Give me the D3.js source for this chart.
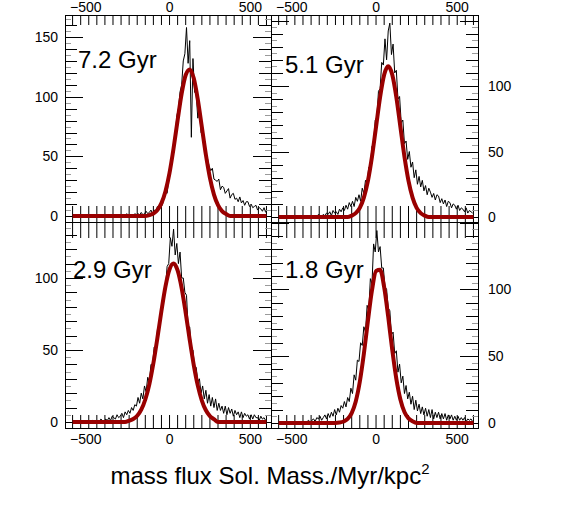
<!DOCTYPE html>
<html>
<head>
<meta charset="utf-8">
<script src="https://cdn.jsdelivr.net/npm/d3@7"></script>
<style>
  body { margin: 0; background: white; }
  svg { display: block; font-family: "Liberation Sans", Arial, sans-serif; }
</style>
</head>
<body>
<div id="chart"></div>
<script>
// panel titles (top-left, top-right, bottom-left, bottom-right)
var panelLabels = ['7.2 Gyr', '5.1 Gyr', '2.9 Gyr', '1.8 Gyr'];

// histogram counts, 10-wide bins from -600 to 600
var counts72 = [
  0,0,0,0,0,0,0,0,0,0,
  0,0,0,0,0,0,0,0,0,0,
  0,0,0,0,0,1,0,0,1,0,
  0,1,0,2,0,1,1,0,2,1,
  2,1,3,1,2,4,2,3,5,2,
  5,4,8,6,11,9,15,20,19,30,
  36,45,60,66,84,90,104,110,130,136,
  158,128,147,66,132,104,102,82,90,70,
  68,60,52,48,42,38,40,31,30,29,
  31,22,25,24,19,21,23,15,18,19,
  14,15,12,16,11,13,9,12,12,8,
  10,7,8,9,5,7,6,4,7,3
];
var counts51 = [
  0,0,0,0,0,0,0,0,0,0,
  0,0,0,0,1,0,0,1,0,0,
  0,1,1,0,2,1,0,2,1,3,
  2,4,1,5,3,4,2,6,4,7,
  5,9,6,11,8,12,8,15,12,17,
  12,22,18,28,26,38,38,54,56,74,
  76,96,98,118,116,136,120,142,148,124,
  132,110,112,90,92,72,74,56,58,44,
  50,38,42,30,36,25,31,23,28,20,
  24,17,22,19,15,18,13,17,16,11,
  14,10,13,8,12,11,7,10,9,6,
  9,5,7,6,4,7,3,5,4,3
];
var counts29 = [
  0,0,0,0,0,0,0,0,0,0,
  0,0,1,0,1,0,0,2,1,0,
  2,1,3,1,4,3,2,5,3,4,
  6,3,7,5,8,6,10,8,12,11,
  17,13,20,16,25,21,31,28,40,40,
  52,50,64,62,76,76,92,94,108,110,
  128,122,134,116,124,110,118,100,100,90,
  88,66,66,50,50,38,38,28,30,20,
  25,16,22,13,19,11,17,10,16,8,
  13,8,11,6,11,5,10,6,9,4,
  8,5,7,3,7,3,6,4,5,2,
  5,2,5,3,3,1,4,2,3,1
];
var counts18 = [
  0,0,0,0,0,0,0,0,0,0,
  0,0,0,1,0,1,0,1,2,0,
  2,3,1,4,3,5,2,4,6,3,
  7,4,8,5,10,6,11,8,13,11,
  16,12,19,16,26,22,36,32,47,46,
  60,58,72,68,88,84,108,104,134,128,
  144,128,132,116,116,102,100,86,84,66,
  68,52,54,38,44,30,35,22,28,18,
  23,14,20,10,17,9,14,7,12,6,
  11,5,10,4,10,3,8,4,8,3,
  7,3,7,2,6,3,6,2,5,2,
  5,2,4,2,4,1,3,2,3,1
];

var fit72 = [
  0,0,0,0,0,0,0,0,0,0,0,0,0,0,0,0,0,0,0,
  0.8,2.1,5.1,10.8,20.8,36.2,56.8,80.3,102.6,118.2,122.9,115.4,97.6,74.6,51.4,32.0,18.0,9.1,4.1,1.7,
  0,0,0,0,0,0,0,0,0,0
];
var fit51 = [
  0,0,0,0,0,0,0,0,0,0,0,0,0,0,0,0,0,0,
  1.1,3.0,7.0,14.8,27.6,46.1,68.8,91.5,108.6,115,108.6,91.5,68.8,46.1,27.6,14.8,7.0,3.0,1.1,
  0,0,0,0,0,0,0,0,0,0,0,0
];
var fit29 = [
  0,0,0,0,0,0,0,0,0,0,0,0,0,0,
  0.9,2.0,4.3,8.5,15.6,26.2,40.8,58.4,77.2,94.2,106,110,105.3,93,75.8,57,39.5,25.2,14.9,8.1,4.1,1.9,
  0,0,0,0,0,0,0,0,0,0,0,0,0
];
var fit18 = [
  0,0,0,0,0,0,0,0,0,0,0,0,0,0,0,
  0.3,1.1,3.0,7.4,16.1,30.8,51.7,76.4,99.3,113.7,114.6,101.6,79.4,54.5,33.0,17.6,8.2,3.4,1.2,
  0,0,0,0,0,0,0,0,0,0,0,0,0,0,0
];

var xTickLabels = [-500, 0, 500];
var yTickLabels = [[0, 50, 100, 150], [0, 50, 100], [0, 50, 100], [0, 50, 100]];
var yRanges = [[-5, 168.5], [-3.8, 154.2], [-4.2, 138.9], [-3.8, 150.4]];
var xRange = [-647, 628];

var axisLabel = 'mass flux Sol. Mass./Myr/kpc';

function mkPanelModel(i) {
  var col = i % 2, row = Math.floor(i / 2);
  var m = {
    col: col, row: row,
    left: col ? 271 : 65,
    right: col ? 478 : 271,
    top: row ? 222 : 15,
    bottom: row ? 428 : 222
  };
  m.x = d3.scaleLinear().domain(xRange).range([m.left, m.right]);
  m.y = d3.scaleLinear().domain(yRanges[i]).range([m.bottom, m.top]);
  return m;
}

function drawTicks(g, m) {
  var topLen = m.row ? 16 : 10;
  var botLen = m.row ? 13 : 16;
  var xt = d3.range(-600, 601, 50);

  g.selectAll('.xt-top').data(xt).join('line')
    .attr('class', 'xt-top')
    .attr('x1', d => m.x(d)).attr('x2', d => m.x(d))
    .attr('y1', m.top).attr('y2', m.top + topLen)
    .attr('stroke', 'black');

  g.selectAll('.xt-bot').data(xt).join('line')
    .attr('class', 'xt-bot')
    .attr('x1', d => m.x(d)).attr('x2', d => m.x(d))
    .attr('y1', m.bottom).attr('y2', m.bottom - botLen)
    .attr('stroke', 'black');

  var yt = d3.range(0, m.y.domain()[1], 5);
  var len = (d) => d % 50 === 0 ? 18 : (d % 10 === 0 ? 12 : 6);
  var col = (d) => d % 10 === 0 ? 'black' : '#9a9a9a';

  g.selectAll('.yt-left').data(yt).join('line')
    .attr('class', 'yt-left')
    .attr('x1', m.left).attr('x2', d => m.left + len(d))
    .attr('y1', d => Math.round(m.y(d)) + 0.5).attr('y2', d => Math.round(m.y(d)) + 0.5)
    .attr('stroke', col);

  g.selectAll('.yt-right').data(yt).join('line')
    .attr('class', 'yt-right')
    .attr('x1', m.right).attr('x2', d => m.right - len(d))
    .attr('y1', d => Math.round(m.y(d)) + 0.5).attr('y2', d => Math.round(m.y(d)) + 0.5)
    .attr('stroke', col);
}

function drawPanel(svg, i, counts, fit) {
  var m = mkPanelModel(i);
  var g = svg.append('g');

  g.append('clipPath').attr('id', 'clip' + i)
    .append('rect')
    .attr('x', m.left).attr('y', m.top)
    .attr('width', m.right - m.left).attr('height', m.bottom - m.top);

  drawTicks(g, m);

  var plot = g.append('g').attr('clip-path', 'url(#clip' + i + ')');

  // histogram through the bin centres
  var bins = counts.map((d, j) => ({ x: -595 + 10 * j, v: d }));
  plot.append('path')
    .datum(bins)
    .attr('d', d3.line().x(d => m.x(d.x)).y(d => m.y(d.v)))
    .attr('fill', 'none')
    .attr('stroke', 'black')
    .attr('stroke-width', 1);

  // fit curve
  var pts = fit.map((d, j) => ({ x: -600 + 25 * j, v: d }));
  plot.append('path')
    .datum(pts)
    .attr('d', d3.line().x(d => m.x(d.x)).y(d => m.y(d.v)).curve(d3.curveMonotoneX))
    .attr('fill', 'none')
    .attr('stroke', '#990000')
    .attr('stroke-width', 4)
    .attr('stroke-linejoin', 'round');

  g.append('rect')
    .attr('x', m.left + 0.5).attr('y', m.top + 0.5)
    .attr('width', m.right - m.left).attr('height', m.bottom - m.top)
    .attr('fill', 'none').attr('stroke', 'black');

  // x tick labels (top row on top, bottom row on bottom)
  g.selectAll('.xl').data(xTickLabels).join('text')
    .attr('class', 'xl')
    .attr('x', d => m.x(d) - (d < 0 ? 3 : 0))
    .attr('y', m.row ? 444 : 12)
    .attr('text-anchor', 'middle')
    .attr('font-size', 14)
    .text(d => d < 0 ? '\u2212' + Math.abs(d) : d);

  // y tick labels (left column on left, right column on right)
  g.selectAll('.yl').data(yTickLabels[i]).join('text')
    .attr('class', 'yl')
    .attr('x', m.col ? 488 : 58)
    .attr('y', d => m.y(d))
    .attr('dy', '0.36em')
    .attr('text-anchor', m.col ? 'start' : 'end')
    .attr('font-size', 14)
    .text(d => d);

  g.append('text')
    .attr('x', m.col ? 285 : (m.row ? 73 : 78))
    .attr('y', m.row ? 278 : (m.col ? 73 : 68))
    .attr('font-size', 24)
    .text(panelLabels[i]);
}

function main() {
  var svg = d3.select('#chart').append('svg')
    .attr('width', 572).attr('height', 511);

  svg.append('rect').attr('width', 572).attr('height', 511).attr('fill', 'white');

  drawPanel(svg, 0, counts72, fit72);
  drawPanel(svg, 1, counts51, fit51);
  drawPanel(svg, 2, counts29, fit29);
  drawPanel(svg, 3, counts18, fit18);

  var title = svg.append('text')
    .attr('x', 270).attr('y', 484)
    .attr('text-anchor', 'middle')
    .attr('font-size', 24);
  title.append('tspan').text(axisLabel);
  title.append('tspan').attr('dy', -10).attr('font-size', 15).text('2');
}

main();
</script>
</body>
</html>
